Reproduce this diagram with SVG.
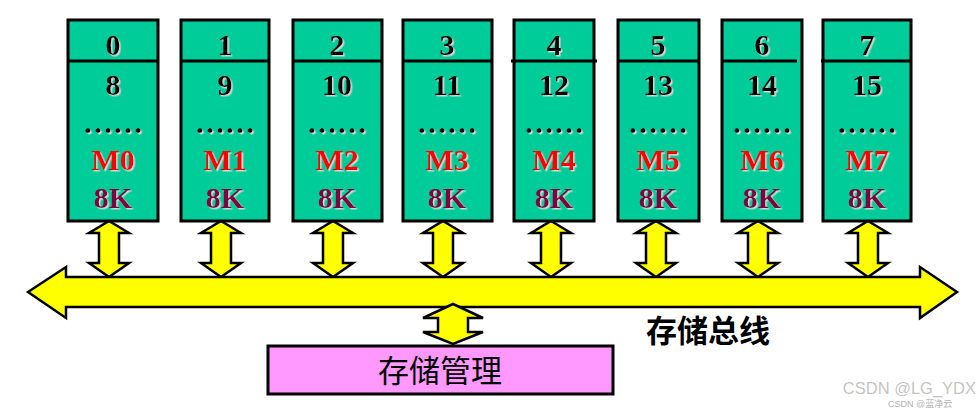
<svg xmlns="http://www.w3.org/2000/svg" xmlns:xlink="http://www.w3.org/1999/xlink" width="978" height="410" viewBox="0 0 978 410">
<defs>
<style>
.mod{fill:#00CC99;stroke:#000;stroke-width:3}
.div{stroke:#000;stroke-width:3}
.t{font-family:"Liberation Serif","Times New Roman",serif;font-weight:bold;font-size:30px;text-anchor:middle;fill:#000;filter:url(#sh)}
.m{fill:#FF0000}
.k{fill:#800040}
.yl{fill:#FFFF00;stroke:#000;stroke-width:2.5;stroke-linejoin:miter}
.cn{font-family:"Noto Sans CJK SC","Noto Sans",sans-serif;font-size:31px;text-anchor:middle;fill:#000}
.wm{font-family:"Liberation Sans","Noto Sans CJK SC",sans-serif;fill:#9a9a9a}
</style>
<filter id="sh" x="-10%" y="-10%" width="130%" height="130%">
<feDropShadow dx="1.5" dy="1.5" stdDeviation="0.4" flood-color="#d8d8d8" flood-opacity="1"/>
</filter>
<path id="dar" class="yl" d="M0,221 L20,233 L10,233 L10,263 L20,263 L0,277 L-20,263 L-10,263 L-10,233 L-20,233 Z"/>
</defs>
<rect width="978" height="410" fill="#fff"/>

<g id="connectors">
<use xlink:href="#dar" href="#dar" x="109"/>
<use xlink:href="#dar" href="#dar" x="221"/>
<use xlink:href="#dar" href="#dar" x="333"/>
<use xlink:href="#dar" href="#dar" x="443"/>
<use xlink:href="#dar" href="#dar" x="551"/>
<use xlink:href="#dar" href="#dar" x="656"/>
<use xlink:href="#dar" href="#dar" x="758"/>
<use xlink:href="#dar" href="#dar" x="868"/>
<path id="bus" class="yl" d="M28,292 L66,267 L66,277 L920,277 L920,267 L957,292 L920,318 L920,307 L66,307 L66,318 Z"/>
<path class="yl" d="M453,304 L483,318 L468,318 L468,332 L483,332 L453,344 L423,332 L438,332 L438,318 L423,318 Z"/>
</g>

<g id="M0">
<rect class="mod" x="68" y="20" width="90" height="201"/>
<line class="div" x1="68" y1="61" x2="158" y2="61"/>
<text class="t" x="113" y="55">0</text>
<text class="t" x="113" y="95">8</text>
<text class="t" x="113" y="133">……</text>
<text class="t m" x="113" y="170">M0</text>
<text class="t k" x="113" y="208">8K</text>
</g>
<g id="M1">
<rect class="mod" x="181" y="20" width="88" height="201"/>
<line class="div" x1="181" y1="61" x2="269" y2="61"/>
<text class="t" x="225" y="55">1</text>
<text class="t" x="225" y="95">9</text>
<text class="t" x="225" y="133">……</text>
<text class="t m" x="225" y="170">M1</text>
<text class="t k" x="225" y="208">8K</text>
</g>
<g id="M2">
<rect class="mod" x="293" y="20" width="89" height="201"/>
<line class="div" x1="293" y1="61" x2="382" y2="61"/>
<text class="t" x="337" y="55">2</text>
<text class="t" x="337" y="95">10</text>
<text class="t" x="337" y="133">……</text>
<text class="t m" x="337" y="170">M2</text>
<text class="t k" x="337" y="208">8K</text>
</g>
<g id="M3">
<rect class="mod" x="403" y="20" width="89" height="201"/>
<line class="div" x1="403" y1="61" x2="492" y2="61"/>
<text class="t" x="447" y="55">3</text>
<text class="t" x="447" y="95">11</text>
<text class="t" x="447" y="133">……</text>
<text class="t m" x="447" y="170">M3</text>
<text class="t k" x="447" y="208">8K</text>
</g>
<g id="M4">
<rect class="mod" x="514" y="20" width="80" height="201"/>
<line class="div" x1="511" y1="61" x2="597" y2="61"/>
<text class="t" x="554" y="55">4</text>
<text class="t" x="554" y="95">12</text>
<text class="t" x="554" y="133">……</text>
<text class="t m" x="554" y="170">M4</text>
<text class="t k" x="554" y="208">8K</text>
</g>
<g id="M5">
<rect class="mod" x="618" y="20" width="81" height="201"/>
<line class="div" x1="618" y1="61" x2="699" y2="61"/>
<text class="t" x="658" y="55">5</text>
<text class="t" x="658" y="95">13</text>
<text class="t" x="658" y="133">……</text>
<text class="t m" x="658" y="170">M5</text>
<text class="t k" x="658" y="208">8K</text>
</g>
<g id="M6">
<rect class="mod" x="722" y="20" width="80" height="201"/>
<line class="div" x1="722" y1="61" x2="797" y2="61"/>
<text class="t" x="762" y="55">6</text>
<text class="t" x="762" y="95">14</text>
<text class="t" x="762" y="133">……</text>
<text class="t m" x="762" y="170">M6</text>
<text class="t k" x="762" y="208">8K</text>
</g>
<g id="M7">
<rect class="mod" x="823" y="20" width="88" height="201"/>
<line class="div" x1="821" y1="61" x2="911" y2="61"/>
<text class="t" x="867" y="55">7</text>
<text class="t" x="867" y="95">15</text>
<text class="t" x="867" y="133">……</text>
<text class="t m" x="867" y="170">M7</text>
<text class="t k" x="867" y="208">8K</text>
</g>

<g id="bus-label">
<text class="cn" x="708" y="342" font-weight="bold">存储总线</text>
</g>

<g id="mem-mgmt">
<rect x="268" y="346" width="345" height="48" fill="#FF99FF" stroke="#000" stroke-width="3"/>
<text class="cn" x="440" y="382">存储管理</text>
</g>

<g id="watermark">
<text class="wm" x="976" y="394" font-size="16.5" text-anchor="end" fill-opacity="0.6">CSDN @LG_YDX</text>
<text class="wm" x="888" y="407" font-size="9" fill-opacity="0.8">CSDN @蓝净云</text>
</g>
</svg>
